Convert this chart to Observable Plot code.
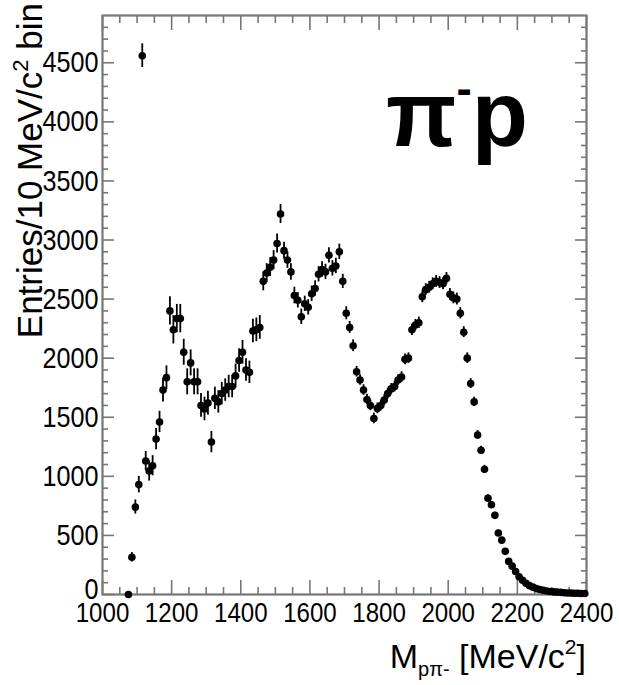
<!DOCTYPE html>
<html><head><meta charset="utf-8">
<script src="https://cdn.jsdelivr.net/npm/d3@7"></script>
<script src="https://cdn.jsdelivr.net/npm/@observablehq/plot@0.6"></script>
<style>body{margin:0;background:#fff} svg{display:block}</style>
</head><body><div id="chart"></div>
<script>
const masses = [
  1075, 1085, 1095, 1105, 1115, 1125, 1135, 1145, 1155,
  1165, 1175, 1185, 1195, 1205, 1215, 1225, 1235, 1245, 1255,
  1265, 1275, 1285, 1295, 1305, 1315, 1325, 1335, 1345, 1355,
  1365, 1375, 1385, 1395, 1405, 1415, 1425, 1435, 1445, 1455,
  1465, 1475, 1485, 1495, 1505, 1515, 1525, 1535, 1545, 1555,
  1565, 1575, 1585, 1595, 1605, 1615, 1625, 1635, 1645, 1655,
  1665, 1675, 1685, 1695, 1705, 1715, 1725, 1735, 1745, 1755,
  1765, 1775, 1785, 1795, 1805, 1815, 1825, 1835, 1845, 1855,
  1865, 1875, 1885, 1895, 1905, 1915, 1925, 1935, 1945, 1955,
  1965, 1975, 1985, 1995, 2005, 2015, 2025, 2035, 2045, 2055,
  2065, 2075, 2085, 2095, 2105, 2115, 2125, 2135, 2145, 2155,
  2165, 2175, 2185, 2195, 2205, 2215, 2225, 2235, 2245, 2255,
  2265, 2275, 2285, 2295, 2305, 2315, 2325, 2335, 2345, 2355,
  2365, 2375, 2385, 2395
];
const counts = [
  0, 315, 740, 930, 4560, 1130, 1045, 1090, 1315,
  1460, 1730, 1835, 2400, 2240, 2335, 2335, 2050, 1800, 1960,
  1800, 1800, 1600, 1570, 1620, 1290, 1660, 1630, 1700, 1730,
  1760, 1760, 1850, 1980, 2050, 1900, 1880, 2230, 2240, 2260,
  2650, 2720, 2770, 2830, 2970, 3220, 2910, 2830, 2730, 2530,
  2490, 2350, 2460, 2430, 2545, 2590, 2710, 2750, 2730, 2870,
  2760, 2780, 2900, 2650, 2380, 2260, 2105, 1885, 1815, 1730,
  1650, 1600, 1490, 1575, 1600, 1645, 1700, 1740, 1760, 1815,
  1840, 1990, 2000, 2240, 2280, 2300, 2520, 2580, 2600, 2630,
  2650, 2640, 2630, 2675, 2540, 2510, 2500, 2380, 2220, 2000,
  1785, 1630, 1350, 1220, 1060, 815, 760, 670, 520, 460,
  365, 280, 240, 195, 150, 120, 95, 75, 62, 50,
  42, 35, 30, 25, 22, 20, 18, 15, 13, 12,
  10, 10, 8, 8
];
const errors = [
  10, 40, 60, 70, 100, 80, 85, 85, 90,
  90, 100, 100, 120, 120, 120, 120, 110, 110, 110,
  110, 110, 100, 100, 100, 90, 95, 95, 95, 95,
  95, 95, 100, 100, 100, 95, 95, 100, 100, 100,
  80, 80, 80, 80, 80, 80, 70, 70, 70, 70,
  65, 65, 65, 65, 65, 65, 65, 65, 65, 65,
  65, 65, 65, 60, 55, 50, 50, 45, 45, 45,
  45, 45, 45, 45, 45, 45, 45, 45, 45, 45,
  45, 45, 45, 48, 48, 48, 50, 50, 50, 50,
  50, 50, 50, 50, 50, 50, 50, 48, 46, 45,
  42, 40, 37, 35, 33, 29, 28, 26, 23, 21,
  19, 17, 15, 14, 12, 11, 10, 9, 8, 7,
  6, 6, 5, 5, 5, 4, 4, 4, 4, 3,
  3, 3, 3, 3
];
const binHalfWidth = 5;
const xMajor = [1000, 1200, 1400, 1600, 1800, 2000, 2200, 2400];
const xTickLabels = ["1000", "1200", "1400", "1600", "1800", "2000", "2200", "2400"];
const xMinor = [1050, 1100, 1150, 1250, 1300, 1350, 1450, 1500, 1550, 1650, 1700, 1750, 1850, 1900, 1950, 2050, 2100, 2150, 2250, 2300, 2350];
const yMajor = [0, 500, 1000, 1500, 2000, 2500, 3000, 3500, 4000, 4500];
const yTickLabels = ["0", "500", "1000", "1500", "2000", "2500", "3000", "3500", "4000", "4500"];
const yMinor = [100, 200, 300, 400, 600, 700, 800, 900, 1100, 1200, 1300, 1400, 1600, 1700, 1800, 1900,
  2100, 2200, 2300, 2400, 2600, 2700, 2800, 2900, 3100, 3200, 3300, 3400, 3600, 3700, 3800, 3900,
  4100, 4200, 4300, 4400, 4600, 4700, 4800];
const yLabel = "Entries/10 MeV/c";
const xLabelMain = "M";
const xLabelSub = "pπ-";
const xLabelUnit = " [MeV/c";
const reactionLabel = ["π", "-", "p"];

const data = masses.map((m, i) => ({m, n: counts[i], e: errors[i]}));
const fc = "#767676";
const tickOpts = {fill: "none", stroke: fc, strokeWidth: 1.6, label: null};

const plot = Plot.plot({
  width: 619, height: 685,
  marginLeft: 102, marginRight: 33, marginTop: 15, marginBottom: 91,
  style: {fontFamily: "'Liberation Sans', Arial, sans-serif", background: "#fff", color: "#000"},
  x: {domain: [1000, 2400]},
  y: {domain: [0, 4900]},
  marks: [
    Plot.axisY(yMinor, {anchor: "left", tickSize: -6, ...tickOpts}),
    Plot.axisY(yMajor, {anchor: "left", tickSize: -12, ...tickOpts}),
    Plot.axisY(yMinor, {anchor: "right", tickSize: -6, ...tickOpts}),
    Plot.axisY(yMajor, {anchor: "right", tickSize: -12, ...tickOpts}),
    Plot.axisX(xMinor, {anchor: "bottom", tickSize: -7, ...tickOpts}),
    Plot.axisX(xMajor, {anchor: "bottom", tickSize: -14, ...tickOpts}),
    Plot.axisX(xMinor, {anchor: "top", tickSize: -7, ...tickOpts}),
    Plot.axisX(xMajor, {anchor: "top", tickSize: -14, ...tickOpts}),
    Plot.axisY(yMajor, {anchor: "left", tickSize: 0, tickPadding: 4, fontSize: 30, label: null,
      tickFormat: d => yTickLabels[yMajor.indexOf(d)]}),
    Plot.axisX(xMajor, {anchor: "bottom", tickSize: 0, tickPadding: 8, fontSize: 28, label: null,
      tickFormat: d => xTickLabels[xMajor.indexOf(d)]}),
    Plot.frame({stroke: fc, strokeWidth: 2.2}),
    Plot.ruleX(data, {x: "m", y1: d => Math.max(0, d.n - d.e), y2: d => d.n + d.e, stroke: "#000", strokeWidth: 1.8}),
    Plot.ruleY(data, {y: "n", x1: d => d.m - binHalfWidth, x2: d => d.m + binHalfWidth, stroke: "#000", strokeWidth: 1.8}),
    Plot.dot(data, {x: "m", y: "n", r: 3.8, fill: "#000"})
  ]
});

const svg = d3.select(plot);
svg.selectAll('g[aria-label="y-axis tick label"] text').each(function() {
  this.setAttribute("textLength", this.textContent.length * 14);
  this.setAttribute("lengthAdjust", "spacingAndGlyphs");
  if (this.textContent === "0") {
    const dy = parseFloat(this.getAttribute("dy")) || 0;
    this.setAttribute("dy", (dy - 5) + "px");
  }
});
svg.selectAll('g[aria-label="x-axis tick label"] text').each(function() {
  this.setAttribute("textLength", this.textContent.length * 13.4);
  this.setAttribute("lengthAdjust", "spacingAndGlyphs");
});

const ff = "'Liberation Sans', Arial, sans-serif";
const yl = svg.append("text").attr("transform", "translate(42,3) rotate(-90)")
  .attr("text-anchor", "end").attr("font-size", 35).attr("font-family", ff).attr("fill", "#000");
yl.append("tspan").text(yLabel);
yl.append("tspan").attr("dy", -14).attr("font-size", 22).text("2");
yl.append("tspan").attr("dy", 14).text(" bin");

const xl = svg.append("text").attr("x", 586).attr("y", 668)
  .attr("text-anchor", "end").attr("font-size", 34).attr("font-family", ff).attr("fill", "#000");
xl.append("tspan").text(xLabelMain);
xl.append("tspan").attr("dy", 8).attr("font-size", 20).text(xLabelSub);
xl.append("tspan").attr("dy", -8).text(xLabelUnit);
xl.append("tspan").attr("dy", -14).attr("font-size", 21).text("2");
xl.append("tspan").attr("dy", 14).text("]");

const pl = svg.append("text").attr("x", 386).attr("y", 146).attr("text-anchor", "start")
  .attr("font-size", 92).attr("font-weight", "bold").attr("font-family", ff).attr("fill", "#000");
pl.append("tspan").text(reactionLabel[0]);
pl.append("tspan").attr("dy", -42).attr("font-size", 46).text(reactionLabel[1]);
pl.append("tspan").attr("dy", 42).text(reactionLabel[2]);

document.getElementById("chart").appendChild(plot);
</script>
</body></html>
